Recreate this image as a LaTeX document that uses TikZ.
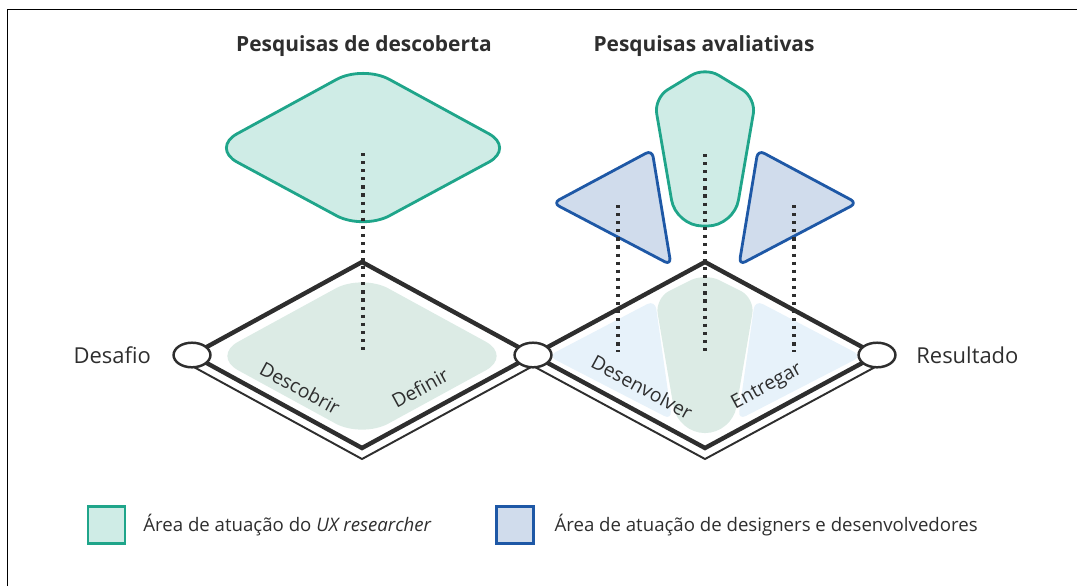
\documentclass[tikz,border=0pt]{standalone}
\usepackage{fontspec}
\setmainfont{Open Sans}
\usetikzlibrary{positioning,shapes.geometric}
\definecolor{uxline}{HTML}{1FA58A}
\definecolor{uxfill}{HTML}{CFECE6}
\definecolor{devline}{HTML}{1E58A6}
\definecolor{devfill}{HTML}{D0DCEC}
\definecolor{innergreen}{HTML}{DCEBE5}
\definecolor{innerblue}{HTML}{E7F2FA}
\definecolor{ink}{HTML}{2E2E2E}
\tikzset{
  lbl/.style={inner sep=0pt, text=ink, font=\fontsize{12.5}{15}\selectfont},
  phase/.style={lbl, font=\fontsize{11}{13}\selectfont},
  keytxt/.style={lbl, font=\fontsize{10.6}{13}\selectfont},
  ttl/.style={lbl, font=\fontsize{11.9}{14}\selectfont\bfseries},
  uxarea/.style={draw=uxline, fill=uxfill, line width=1.6pt, line join=round},
  devarea/.style={draw=devline, fill=devfill, line width=1.6pt, line join=round, rounded corners=4pt},
  edge/.style={draw=ink, line width=2.5pt, line join=miter},
  rim/.style={draw=ink, line width=1.1pt},
  port/.style={ellipse, draw=ink, fill=white, line width=1.4pt, minimum width=21pt, minimum height=14pt, inner sep=0pt},
  probe/.style={draw=ink, line width=1.8pt, dash pattern=on 1.8pt off 2.8pt},
  keybox/.style={minimum size=21pt, inner sep=0pt, line width=1.6pt}
}
\begin{document}
\begin{tikzpicture}[x=0.02cm,y=-0.02cm]
  \useasboundingbox (0,0) rectangle (1077,586);
  \draw[line width=1pt] (7.5,586) -- (7.5,9.5) -- (1077,9.5);

  \coordinate (pA) at (192,355);
  \coordinate (pB) at (533,355);
  \coordinate (pC) at (877,355);
  \coordinate (lT) at (362,262);
  \coordinate (lB) at (362,448);
  \coordinate (rT) at (705,262);
  \coordinate (rB) at (705,448);
  \coordinate (lB2) at (362,459);
  \coordinate (rB2) at (705,459);
  \coordinate (pA2) at (192,366);
  \coordinate (pB2) at (533,366);
  \coordinate (pC2) at (877,366);

  \fill[innergreen, rounded corners=17pt] (212,356)--(362,274)--(512,356)--(362,438)--cycle;
  \fill[innerblue, rounded corners=5pt] (548,356)--(655,300)--(672,420)--cycle;
  \fill[innerblue, rounded corners=5pt] (862,356)--(755,300)--(738,420)--cycle;
  \fill[innergreen, rounded corners=9pt] (705,273)--(755,298)
    [rounded corners=15pt] --(732,433)--(678,433) [rounded corners=9pt] --(655,298)--cycle;

  \draw[uxarea, rounded corners=17pt] (211,148)--(363,65)--(515,148)--(363,230)--cycle;
  \draw[uxarea, rounded corners=9pt] (705,67)--(756,98)
    [rounded corners=15pt] --(734,226)--(676,226) [rounded corners=9pt] --(654,98)--cycle;
  \draw[devarea] (553,203)--(652,150)--(671,265)--cycle;
  \draw[devarea] (857,203)--(758,150)--(739,265)--cycle;

  \coordinate (s1) at (363,153);  \coordinate (e1) at (363,352);
  \coordinate (s2) at (705,154);  \coordinate (e2) at (705,352);
  \coordinate (s3) at (618,205);  \coordinate (e3) at (618,352);
  \coordinate (s4) at (794,205);  \coordinate (e4) at (794,352);
  \draw[probe] (s1) -- (e1);
  \draw[probe] (s2) -- (e2);
  \draw[probe] (s3) -- (e3);
  \draw[probe] (s4) -- (e4);

  \draw[rim] (pA2) -- (lB2) -- (pB2) -- (rB2) -- (pC2);
  \draw[edge] (pA) -- (lT) -- (pB) -- (lB) -- cycle;
  \draw[edge] (pB) -- (rT) -- (pC) -- (rB) -- cycle;

  \node[port] (desafio) at (pA) {};
  \node[port] (meio) at (pB) {};
  \node[port] (resultado) at (pC) {};

  \node[lbl, left=12pt of desafio] (desafioTxt) {Desafio};
  \node[lbl, right=11pt of resultado] (resultadoTxt) {Resultado};

  \node[phase, rotate=-28.5] (descobrir) at (300,388) {Descobrir};
  \node[phase, rotate=28.5] (definir) at (420,388) {Definir};
  \node[phase, rotate=-28.5] (desenvolver) at (642,387) {Desenvolver};
  \node[phase, rotate=28.5] (entregar) at (767,387) {Entregar};

  \node[ttl] (ttlL) at (364,46) {Pesquisas de descoberta};
  \node[ttl] (ttlR) at (704,46) {Pesquisas avaliativas};

  \node[keybox, draw=uxline, fill=uxfill] (keyux) at (106.5,525) {};
  \node[keytxt, right=9.5pt of keyux] (keyuxTxt) {Área de atuação do \textit{UX researcher}};
  \node[keybox, draw=devline, fill=devfill] (keydev) at (515,525) {};
  \node[keytxt, right=11pt of keydev] (keydevTxt) {Área de atuação de designers e desenvolvedores};
\end{tikzpicture}
\end{document}
